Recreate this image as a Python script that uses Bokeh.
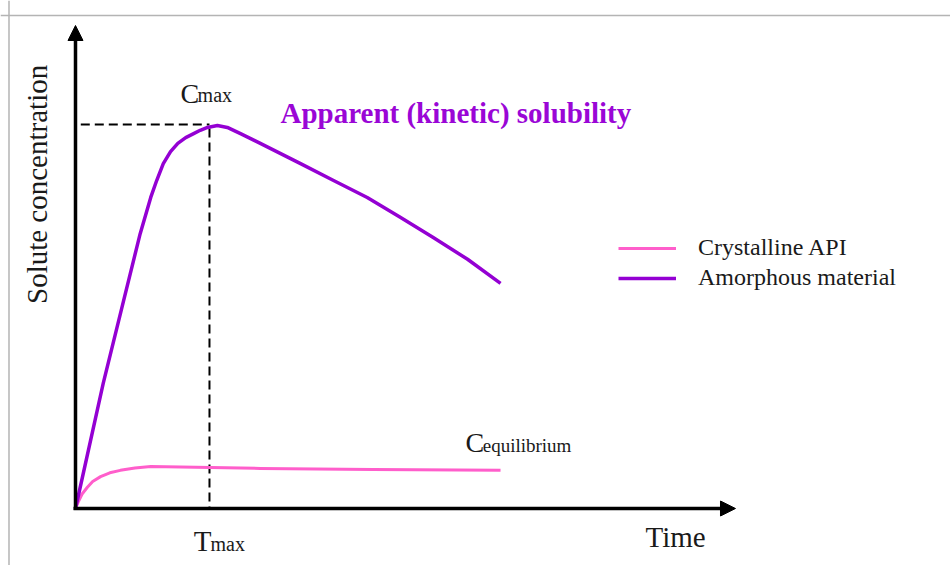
from bokeh.plotting import figure
from bokeh.models import Range1d, Arrow, NormalHead, Span, Legend, LegendItem
from bokeh.core.properties import value
from bokeh.embed import file_html
from bokeh.resources import INLINE

# ---- data (arbitrary units) ----
amorphous_t = [0, 0.42, 0.73, 0.98, 1.14, 1.23, 1.33, 1.44, 1.55, 1.67, 1.79, 1.89, 2.00, 2.15,
               2.30, 2.50, 2.80, 3.41, 3.91, 4.42, 4.92, 5.42, 5.94, 6.44]
amorphous_c = [0, 2.59, 4.31, 5.69, 6.44, 6.79, 7.14, 7.39, 7.56, 7.68, 7.76, 7.83, 7.89, 7.93,
               7.89, 7.76, 7.56, 7.14, 6.79, 6.44, 6.03, 5.61, 5.16, 4.66]
crystalline_t = [0, 0.05, 0.10, 0.18, 0.26, 0.38, 0.52, 0.68, 0.90, 1.14, 2.05, 2.80, 4.50, 6.44]
crystalline_c = [0, 0.16, 0.30, 0.44, 0.56, 0.66, 0.74, 0.79, 0.84, 0.87, 0.85, 0.83, 0.81, 0.79]
t_max = 2.03
c_max = 7.95
axis_t_end = 10.0
axis_c_end = 10.0
series_names = ["Crystalline API", "Amorphous material"]

# ---- layout ----
W, H = 950, 565
X0, X1 = -1.13636, 13.2576
Y0, Y1 = -1.1801, 10.5176
PINK = "#ff5ecb"
PURPLE = "#9400d3"
FONT = "Liberation Serif"
INK = "#1a1a1a"
TY = 0.207  # baseline correction for text glyphs

p = figure(width=W, height=H, x_range=Range1d(X0, X1), y_range=Range1d(Y0, Y1),
           x_axis_type=None, y_axis_type=None, toolbar_location=None,
           output_backend="svg", min_border=0, outline_line_color=None,
           background_fill_color="white", border_fill_color="white")
p.grid.visible = False

# frame border (left and top, light gray)
p.add_layout(Span(location=-1.0076, dimension="height", line_color="#b4b4b4", line_width=1.5))
p.add_layout(Span(location=10.207, dimension="width", line_color="#b4b4b4", line_width=1.5))

# axes with arrows
p.add_layout(Arrow(x_start=0, y_start=-0.03, x_end=0, y_end=axis_c_end, line_width=3.5, line_color="black",
                   end=NormalHead(size=15, fill_color="black", line_color="black")))
p.add_layout(Arrow(x_start=-0.03, y_start=0, x_end=axis_t_end, y_end=0, line_width=3.5, line_color="black",
                   end=NormalHead(size=15, fill_color="black", line_color="black")))

# dashed guide lines
p.line([0.08, t_max], [c_max, c_max], line_color="black", line_width=2, line_dash="9 5")
p.line([t_max, t_max], [c_max - 0.08, 0], line_color="black", line_width=2, line_dash="9 5")

# curves
r_cry = p.line(crystalline_t, crystalline_c, line_color=PINK, line_width=3, line_join="round")
r_amo = p.line(amorphous_t, amorphous_c, line_color=PURPLE, line_width=3.5, line_join="round")

legend = Legend(items=[LegendItem(label=series_names[0], renderers=[r_cry]),
                       LegendItem(label=series_names[1], renderers=[r_amo])],
                location=(618, 274), glyph_width=58, glyph_height=24, label_height=24,
                label_standoff=22, spacing=3, padding=0, margin=0,
                border_line_color=None, background_fill_alpha=0,
                label_text_font=FONT, label_text_font_size="24px", label_text_color=INK)
p.add_layout(legend)

# texts
def txt(x, y, s, size, color=INK, style="normal", angle=0, align="left", baseline="alphabetic"):
    p.text(x=[x], y=[y], text=[s], text_font=value(FONT), text_font_size=size,
           text_color=color, text_font_style=style, angle=angle,
           text_align=align, text_baseline=baseline)

txt(-0.576, 6.71, "Solute concentration", "29px", angle=1.5708, align="center", baseline="middle")
txt(8.636, -0.807 + TY, "Time", "29px")
txt(3.106, 7.99 + TY, "Apparent (kinetic) solubility", "29px", color="#9a06d6", style="bold")
# C_max label
txt(t_max - 0.44, 8.385 + TY, "C", "28px")
txt(t_max - 0.18, 8.345 + TY, "max", "20px")
# T_max label
txt(t_max - 0.24, -0.87 + TY, "T", "29px")
txt(t_max + 0.015, -0.935 + TY, "max", "20px")
# C_equilibrium label
txt(5.909, 1.159 + TY, "C", "28px")
txt(6.17, 1.097 + TY, "equilibrium", "19px")

open("out.html", "w").write(file_html(p, INLINE))
